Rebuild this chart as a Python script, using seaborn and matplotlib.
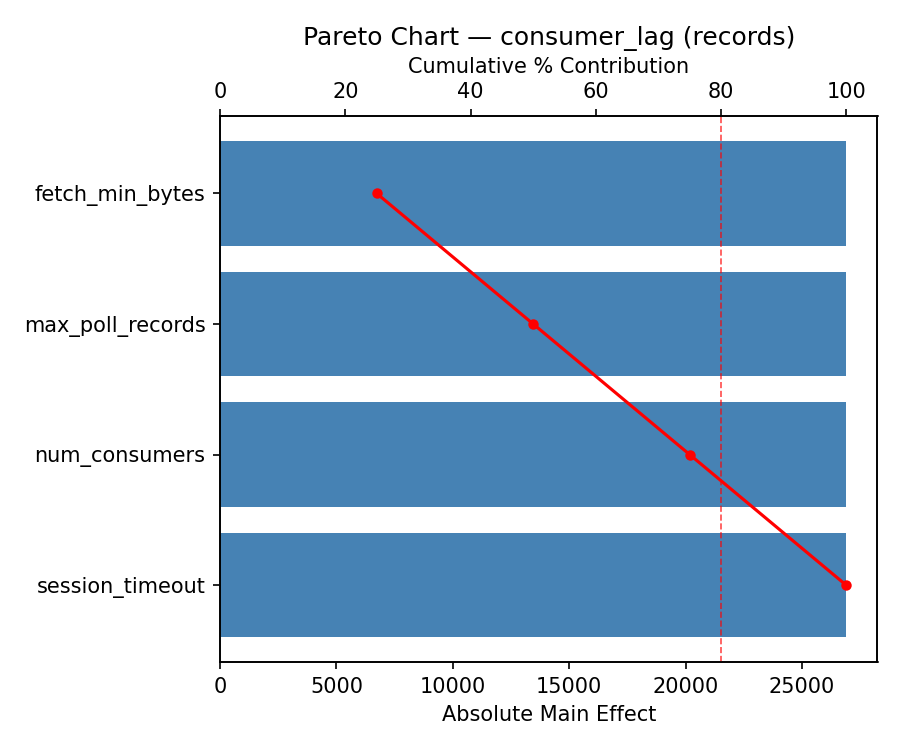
import pandas as pd
import matplotlib
matplotlib.use("Agg")
import matplotlib.pyplot as plt
import seaborn as sns

factors = ["fetch_min_bytes", "max_poll_records", "num_consumers", "session_timeout"]
effects = [26900, 26900, 26900, 26900]
cum_pct = [25.0, 50.0, 75.0, 100.0]

df = pd.DataFrame({"Factor": factors, "Effect": effects, "Cumulative": cum_pct})

fig, ax = plt.subplots(figsize=(6, 5), dpi=150)
sns.barplot(data=df, x="Effect", y="Factor", color="steelblue", saturation=1, width=0.8, ax=ax)
ax.set_ylim(len(factors) - 0.41, -0.59)
ax.set_xlabel("Absolute Main Effect")
ax.set_ylabel("")

ax2 = ax.twiny()
ax2.plot(df["Cumulative"], range(len(factors)), "o-", color="red", markersize=4, linewidth=1.5)
ax2.axvline(80, color="red", linestyle="--", linewidth=0.8, alpha=0.7)
ax2.set_xlim(0, 105)
ax2.set_xlabel("Cumulative % Contribution")
ax2.set_title("Pareto Chart — consumer_lag (records)")

fig.subplots_adjust(left=0.2445, right=0.975, top=0.845, bottom=0.117)
fig.savefig("out.png", dpi=150)
